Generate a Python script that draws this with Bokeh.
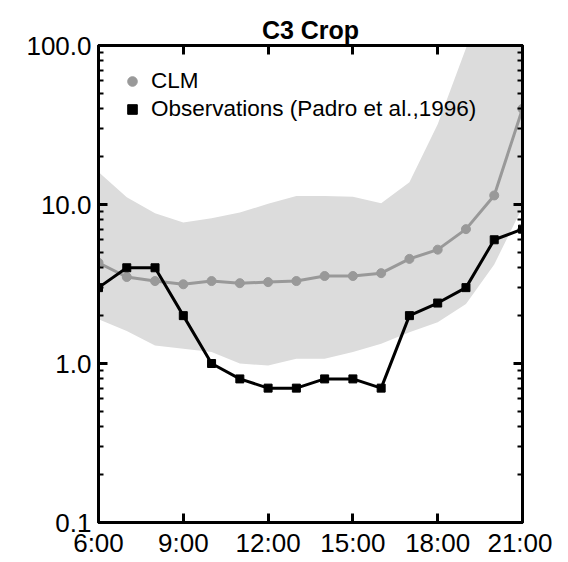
from bokeh.plotting import figure
from bokeh.models import (LinearAxis, LogAxis, FixedTicker, CustomJSTickFormatter,
                          Legend, LegendItem, Title)
from bokeh.embed import file_html
from bokeh.resources import INLINE

# ---- data ----
hours = [6, 7, 8, 9, 10, 11, 12, 13, 14, 15, 16, 17, 18, 19, 20, 21]
clm = [4.3, 3.5, 3.3, 3.15, 3.3, 3.2, 3.25, 3.3, 3.55, 3.55, 3.7, 4.55, 5.2, 7.0, 11.4, 40.0]
obs = [3.0, 4.0, 4.0, 2.0, 1.0, 0.8, 0.7, 0.7, 0.8, 0.8, 0.7, 2.0, 2.4, 3.0, 6.0, 7.0]
band_low = [1.9, 1.6, 1.3, 1.24, 1.18, 1.0, 0.97, 1.07, 1.07, 1.18, 1.33, 1.57, 1.82, 2.37, 4.2, 9.6]
band_high = [16.0, 11.1, 8.8, 7.7, 8.2, 8.9, 10.1, 11.3, 11.3, 11.2, 10.2, 13.8, 32.0, 96.0, 300.0, 900.0]

x_ticks = [6, 9, 12, 15, 18, 21]
x_tick_labels = ["6:00", "9:00", "12:00", "15:00", "18:00", "21:00"]
y_ticks = [0.1, 1, 10, 100]
y_tick_labels = ["0.1", "1.0", "10.0", "100.0"]
y_minor = [m * d for d in (0.1, 1, 10) for m in range(2, 10)]

FONT = "Liberation Sans"

p = figure(frame_width=424, frame_height=477, y_axis_type="log",
           x_range=(6, 21), y_range=(0.1, 100),
           output_backend="svg", toolbar_location=None,
           min_border_left=98, min_border_top=45, min_border_right=30, min_border_bottom=30)
p.grid.visible = False
p.outline_line_color = "black"
p.outline_line_width = 3

p.title = Title(text="C3 Crop", align="center", text_font=FONT, text_color="black",
                text_font_size="25px", text_font_style="bold", standoff=4)

p.varea(x=hours, y1=band_low, y2=band_high, fill_color="#dcdcdc")

p.line(hours, clm, line_color="#999999", line_width=3)
r_clm = p.scatter(hours, clm, marker="circle", size=9, fill_color="#999999", line_color="#999999")
p.line(hours, obs, line_color="black", line_width=3)
r_obs = p.scatter(hours, obs, marker="square", size=8, fill_color="black", line_color="black")

bottom = p.below[0]
left = p.left[0]

xfmt = CustomJSTickFormatter(args=dict(t=x_ticks, l=x_tick_labels),
                             code="const i = t.indexOf(tick); return i >= 0 ? l[i] : '';")
yfmt = CustomJSTickFormatter(args=dict(t=y_ticks, l=y_tick_labels),
                             code="for (let i = 0; i < t.length; i++) { if (Math.abs(Math.log10(tick) - Math.log10(t[i])) < 1e-6) return l[i]; } return '';")
blank = CustomJSTickFormatter(code="return '';")

top = LinearAxis()
right = LogAxis()
p.add_layout(top, "above")
p.add_layout(right, "right")

for ax in [bottom, top]:
    ax.ticker = FixedTicker(ticks=x_ticks)
for ax in [left, right]:
    ax.ticker = FixedTicker(ticks=y_ticks, minor_ticks=y_minor)
bottom.formatter = xfmt
left.formatter = yfmt
top.formatter = blank
right.formatter = blank

for ax in [bottom, top, left, right]:
    ax.axis_line_width = 3
    ax.axis_line_color = "black"
    ax.major_tick_in = 9
    ax.major_tick_out = 0
    ax.major_tick_line_width = 3
    ax.minor_tick_in = 5
    ax.minor_tick_out = 0
    ax.minor_tick_line_width = 2
    ax.major_label_text_font = FONT
    ax.major_label_text_font_size = "26px"
    ax.major_label_text_color = "black"

for ax in [top, right]:
    ax.major_label_standoff = 0

bottom.major_label_standoff = 5
left.major_label_standoff = 7

legend = Legend(items=[LegendItem(label="CLM", renderers=[r_clm]),
                       LegendItem(label="Observations (Padro et al.,1996)", renderers=[r_obs])],
                location="top_left", margin=22, padding=0, spacing=-3,
                glyph_width=24, glyph_height=28, label_height=25, label_standoff=7,
                label_text_font=FONT, label_text_font_size="22.5px", label_text_color="black",
                background_fill_alpha=0, border_line_alpha=0)
p.add_layout(legend)

open("out.html", "w").write(file_html(p, INLINE))
